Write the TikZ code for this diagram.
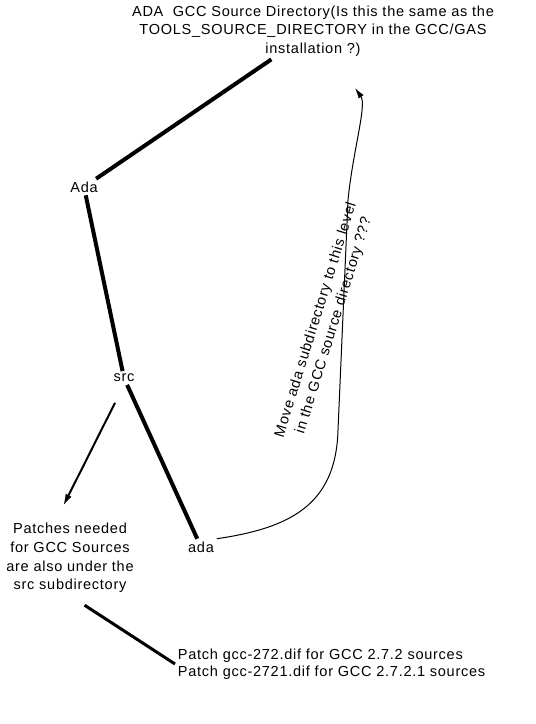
\documentclass[tikz,border=0pt]{standalone}
\usepackage{fontspec}
\setmainfont{Liberation Sans}[LetterSpace=5]
\usetikzlibrary{arrows.meta}

\tikzset{
  lbl/.style={font=\fontsize{10.9}{14}\selectfont, align=center, inner sep=2pt},
  branch/.style={line width=3pt},
  arr/.style={line width=1.5pt, -{Latex[length=9pt,width=5pt]}},
}

\begin{document}
\begin{tikzpicture}[x=0.75pt, y=-0.75pt]
    % 1. Fix the frame
    \useasboundingbox (0,0) rectangle (535,724);

    % 2. Directory names
    \node[lbl] (gccdir) at (313,31) {ADA~~GCC Source Directory(Is this the same as the\\ TOOLS\_SOURCE\_DIRECTORY in the GCC/GAS\\ installation ?)};
    \node[lbl] (Ada) at (84,187) {Ada};
    \node[lbl] (src) at (124,378) {src};
    \node[lbl] (ada) at (201,547) {ada};

    % 3. Notes
    \node[lbl] (patches) at (70,558) {Patches needed\\ for GCC Sources\\ are also under the\\ src subdirectory};
    \node[lbl, align=left, anchor=west, font=\fontsize{10.9}{13}\selectfont] (patchlist) at (175,664)
        {Patch gcc-272.dif for GCC 2.7.2 sources\\ Patch gcc-2721.dif for GCC 2.7.2.1 sources};
    \node[lbl, rotate=72.7] (move) at (325,323) {Move ada subdirectory to this level\\ in the GCC source directory ???};

    % 4. Tree branches
    \draw[branch] (Ada) -- (gccdir);
    \draw[branch] (Ada) -- (src);
    \draw[branch] (src) -- (ada);

    % 5. Arrow and line to the notes
    \draw[arr, shorten <=15pt, shorten >=12pt] (src.south) -- ([xshift=-10.5pt]patches.north);
    \draw[line width=2.25pt, shorten <=13pt] (patches.south) -- (patchlist.west);

    % 6. Curved arrow up to the GCC directory
    \coordinate (movetip) at (355,88);
    \draw[line width=0.75pt, -{Latex[length=8pt,width=4.5pt]}] (ada.north east)
        .. controls (290,528) and (336,505) .. (338,430) -- (348,200)
        .. controls (353,150) and (367,105) .. (movetip);

\end{tikzpicture}
\end{document}
